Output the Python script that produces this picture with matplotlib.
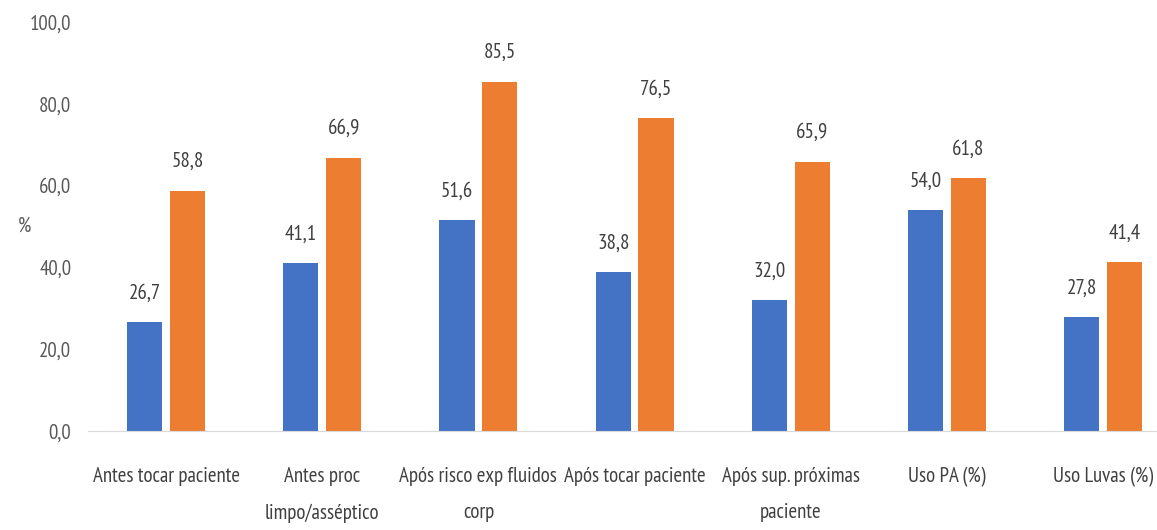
import numpy as np
import matplotlib.pyplot as plt

plt.rcParams['font.family'] = ['PT Sans Narrow', 'Archivo Narrow', 'Roboto Condensed', 'DejaVu Sans']

categorias = ['Antes tocar paciente', 'Antes proc\nlimpo/asséptico', 'Após risco exp fluidos\ncorp',
              'Após tocar paciente', 'Após sup. próximas\npaciente', 'Uso PA (%)', 'Uso Luvas (%)']
serie_1 = [26.7, 41.1, 51.6, 38.8, 32.0, 54.0, 27.8]
serie_2 = [58.8, 66.9, 85.5, 76.5, 65.9, 61.8, 41.4]

cinza = '#595959'
fig = plt.figure(figsize=(11.57, 5.30), dpi=100)
ax = fig.add_axes([0.076, 0.187, 0.945, 0.771])

x = np.arange(len(categorias))
w = 0.225
off = 0.137
b1 = ax.bar(x - off, serie_1, w, color='#4472C4')
b2 = ax.bar(x + off, serie_2, w, color='#ED7D31')

def fmt(v):
    return f'{v:.1f}'.replace('.', ',')

for bars, vals in [(b1, serie_1), (b2, serie_2)]:
    for b, v in zip(bars, vals):
        ax.annotate(fmt(v), (b.get_x() + b.get_width() / 2, v), xytext=(0, 14),
                    textcoords='offset points', ha='center', va='bottom', fontsize=15, color='#404040')

ax.set_xlim(-0.5, 6.5)
ax.set_ylim(0, 100)
ax.set_yticks(np.arange(0, 101, 20))
ax.set_yticklabels([fmt(v) for v in np.arange(0, 101, 20)], fontsize=15, color=cinza)
ax.set_xticks(x)
ax.set_xticklabels(categorias, fontsize=15, color='#404040', linespacing=2.15)
ax.tick_params(axis='both', length=0)
ax.tick_params(axis='x', pad=26)
ax.tick_params(axis='y', pad=12)
for s in ['top', 'right', 'left']:
    ax.spines[s].set_visible(False)
ax.spines['bottom'].set_color('#D9D9D9')
ax.set_ylabel('%', fontsize=15, color=cinza, rotation=0, va='center')
ax.yaxis.set_label_coords(-0.058, 0.5)

fig.savefig('out.png', dpi=100)
